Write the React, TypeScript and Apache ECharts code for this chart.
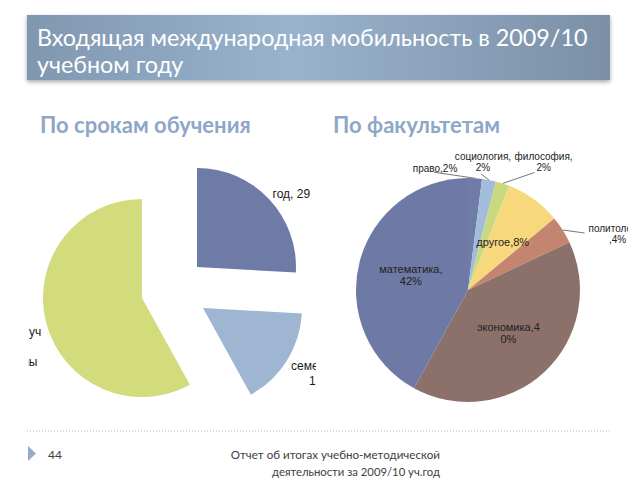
import React, { useEffect, useRef } from 'react';
import * as echarts from 'echarts';

// ---- texts ----
const titleLines = ['Входящая международная мобильность в 2009/10', 'учебном году'];
const leftHeader = 'По срокам обучения';
const rightHeader = 'По факультетам';
const footerPage = '44';
const footerLines = ['Отчет об итогах учебно-методической', 'деятельности за 2009/10 уч.год'];

// ---- left pie: by duration of study ----
const durationCategories = ['год', 'семестр', 'краткосрочные учебные программы'];
const durationValues = [29, 18, 65];
const durationColors = ['#6e7ba6', '#9eb6d1', '#d3dc7c'];

// ---- right pie: by faculty (percent) ----
const facultyCategories = ['право', 'социология', 'философия', 'другое', 'политология', 'экономика', 'математика'];
const facultyShares = [2, 2, 2, 8, 4, 40, 42];
const facultyColors = ['#6f7ca7', '#a3bcd9', '#c9d97f', '#f7d87c', '#c3856f', '#8b716a', '#6e7aa5'];

const ARIAL = '"Liberation Sans", Arial, sans-serif';
const GILL = 'Lato, "Open Sans", sans-serif';

function cutText(t: string, cuts: number[]): string[] {
  const out: string[] = [];
  let prev = 0;
  for (const c of cuts) {
    out.push(t.slice(prev, c).trim());
    prev = c;
  }
  out.push(t.slice(prev).trim());
  return out;
}

export default function App() {
  const bgRef = useRef<HTMLDivElement>(null);
  const leftRef = useRef<HTMLDivElement>(null);
  const rightRef = useRef<HTMLDivElement>(null);

  useEffect(() => {
    const bg = echarts.init(bgRef.current!, null, { renderer: 'svg' });
    const left = echarts.init(leftRef.current!, null, { renderer: 'svg' });
    const right = echarts.init(rightRef.current!, null, { renderer: 'svg' });

    bg.setOption({
      animation: false,
      graphic: [
        {
          type: 'rect',
          shape: { x: 27, y: 15, width: 583, height: 65 },
          style: {
            fill: new echarts.graphic.LinearGradient(0, 0, 1, 0, [
              { offset: 0, color: '#8097b0' },
              { offset: 0.45, color: '#99b3cc' },
              { offset: 1, color: '#7b90a7' },
            ]),
            shadowBlur: 4,
            shadowOffsetY: 2,
            shadowColor: 'rgba(0,0,0,0.35)',
          },
        },
        { type: 'text', x: 37, y: 37, style: { text: titleLines[0], fill: '#ffffff', fontFamily: GILL, fontSize: 23.3, verticalAlign: 'middle' } },
        { type: 'text', x: 37, y: 64, style: { text: titleLines[1], fill: '#ffffff', fontFamily: GILL, fontSize: 23.3, verticalAlign: 'middle' } },
        { type: 'text', x: 40, y: 124, style: { text: leftHeader, fill: '#8ea7c7', fontFamily: GILL, fontSize: 22, fontWeight: 'bold', verticalAlign: 'middle' } },
        { type: 'text', x: 333, y: 124, style: { text: rightHeader, fill: '#8ea7c7', fontFamily: GILL, fontSize: 22, fontWeight: 'bold', verticalAlign: 'middle' } },
        { type: 'line', shape: { x1: 27, y1: 431, x2: 610, y2: 431 }, style: { stroke: '#b8b8b8', lineWidth: 1, lineDash: [1, 2] } },
        { type: 'polygon', shape: { points: [[28, 446], [36, 453.5], [28, 461]] }, style: { fill: '#93abc6' } },
        { type: 'text', x: 48, y: 454, style: { text: footerPage, fill: '#404040', fontFamily: GILL, fontSize: 12, verticalAlign: 'middle' } },
        { type: 'text', x: 440, y: 454, style: { text: footerLines[0], fill: '#404040', fontFamily: GILL, fontSize: 11.6, align: 'right', verticalAlign: 'middle' } },
        { type: 'text', x: 440, y: 471, style: { text: footerLines[1], fill: '#404040', fontFamily: GILL, fontSize: 11.3, align: 'right', verticalAlign: 'middle' } },
      ],
    });

    // left exploded pie: one series per slice, each with its own displaced centre
    const leftCenters = [[169, 127], [175, 168], [114, 158]];
    const leftLabelShift = [-2, 10, 31];
    const durationCuts = [[], [8], [16, 22, 31]];
    const durationLineAlign = [['r'], ['c', 'c'], ['r', 'c', 'p', 'c']];
    const richBase = { fontFamily: ARIAL, fontSize: 12, color: '#1a1a1a', lineHeight: 15 };
    left.setOption({
      animation: false,
      series: durationValues.map((_, k) => ({
        type: 'pie',
        silent: true,
        radius: 99,
        center: leftCenters[k],
        startAngle: 90,
        clockwise: true,
        avoidLabelOverlap: false,
        labelLayout: { dy: leftLabelShift[k] },
        label: {
          show: true,
          position: 'outside',
          distanceToLabelLine: 0,
          fontFamily: ARIAL,
          fontSize: 12,
          color: '#1a1a1a',
          lineHeight: 15,
          formatter: (p: any) => {
            const lines = cutText(`${p.name}, ${p.value}`, durationCuts[p.dataIndex]);
            return lines.map((l, j) => `{${durationLineAlign[p.dataIndex][j]}|${l}}`).join('\n');
          },
          rich: {
            r: { ...richBase, align: 'right' },
            p: { ...richBase, align: 'right', padding: [0, 4, 0, 0] },
            c: { ...richBase, align: 'center' },
          },
        },
        labelLine: { show: false, length: 5, length2: 0 },
        data: durationCategories.map((name, i) => ({
          name,
          value: durationValues[i],
          itemStyle: { color: i === k ? durationColors[i] : 'rgba(0,0,0,0)', borderWidth: 0 },
          label: { show: i === k },
        })),
      })),
    });

    // right pie
    const facultyOutside = [true, true, true, false, true, false, false];
    const facultyCuts = [[], [11], [10], [], [11], [11], [11]];
    // label centre and leader-line end, relative to the slice edge point given by the library
    const facultyLabelOffset: Record<number, number[]> = {
      0: [-40, -10, -41, -6],
      1: [-6, -18, -8, -6],
      2: [41, -21, 32, -11],
      4: [55, 4.5, 22, 3],
    };
    right.setOption({
      animation: false,
      series: [
        {
          type: 'pie',
          silent: true,
          radius: 112,
          center: [138, 150],
          startAngle: 90,
          clockwise: true,
          avoidLabelOverlap: false,
          label: {
            show: true,
            position: 'inside',
            fontFamily: ARIAL,
            fontSize: 11,
            lineHeight: 12,
            color: '#222222',
            formatter: (p: any) => cutText(`${p.name},${p.value}%`, facultyCuts[p.dataIndex]).join('\n'),
          },
          labelLine: { show: true, length: 10, length2: 10, lineStyle: { color: '#555555', width: 0.8 } },
          labelLayout: (p: any) => {
            const o = facultyLabelOffset[p.dataIndex];
            if (!o || !p.labelLinePoints) return {};
            const p0 = p.labelLinePoints[0];
            return {
              x: p0[0] + o[0],
              y: p0[1] + o[1],
              align: 'center',
              verticalAlign: 'middle',
              labelLinePoints: [p0, [p0[0] + o[2], p0[1] + o[3]], [p0[0] + o[2], p0[1] + o[3]]],
            };
          },
          data: facultyCategories.map((name, i) => ({
            name,
            value: facultyShares[i],
            itemStyle: { color: facultyColors[i], borderWidth: 0 },
            label: facultyOutside[i] ? { position: 'outside', fontSize: 10, lineHeight: 11 } : { position: 'inside' },
            labelLine: { show: facultyOutside[i] },
          })),
        },
      ],
    });

    return () => {
      bg.dispose();
      left.dispose();
      right.dispose();
    };
  }, []);

  return (
    <div style={{ position: 'fixed', left: 0, top: 0, width: 640, height: 480, background: '#ffffff', overflow: 'hidden' }}>
      <div ref={bgRef} style={{ position: 'absolute', left: 0, top: 0, width: 640, height: 480 }} />
      <div ref={leftRef} style={{ position: 'absolute', left: 28, top: 140, width: 288, height: 280, overflow: 'hidden' }} />
      <div ref={rightRef} style={{ position: 'absolute', left: 330, top: 140, width: 298, height: 280, overflow: 'hidden' }} />
    </div>
  );
}
